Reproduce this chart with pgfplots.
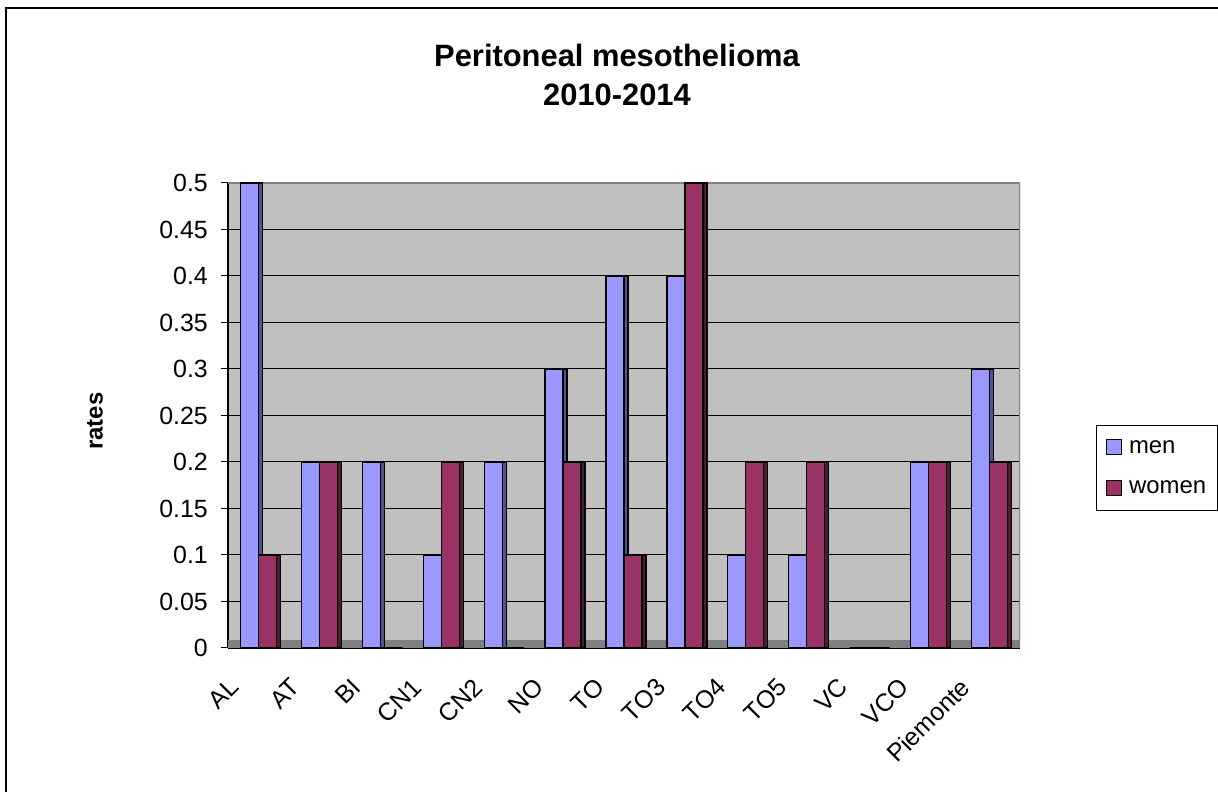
\documentclass[border=0pt]{standalone}
\usepackage{fontspec}
\setmainfont{Liberation Sans}
\usepackage{pgfplots}
\pgfplotsset{compat=1.18}
\definecolor{menc}{HTML}{9999FF}
\definecolor{womenc}{HTML}{993366}
\definecolor{menside}{RGB}{84,84,140}
\definecolor{womenside}{RGB}{77,26,51}
\definecolor{wall}{HTML}{C0C0C0}
\definecolor{floorc}{HTML}{808080}
\begin{document}
\begin{tikzpicture}
\useasboundingbox (0,0) rectangle (1218bp,792bp);
\draw[line width=1.6bp, black] (6bp,0bp) -- (6bp,784bp) -- (1218bp,784bp);
\node[font=\fontsize{31}{36}\selectfont\bfseries, anchor=base] at (617bp,725bp) {Peritoneal mesothelioma};
\node[font=\fontsize{31}{36}\selectfont\bfseries, anchor=base] at (617bp,686bp) {2010-2014};
\begin{axis}[
  at={(228bp,144bp)}, anchor=south west,
  scale only axis, width=792bp, height=465bp,
  xmin=-0.5, xmax=12.5, ymin=0, ymax=0.5,
  axis background/.style={fill=wall},
  axis x line=bottom, axis y line=left,
  axis line style={-, black, line width=1.2bp},
  ytick={0,0.05,0.1,0.15,0.2,0.25,0.3,0.35,0.4,0.45,0.5},
  yticklabels={0,0.05,0.1,0.15,0.2,0.25,0.3,0.35,0.4,0.45,0.5},
  ymajorgrids, grid style={black, line width=1bp},
  xtick={0,...,12},
  xticklabels={AL,AT,BI,CN1,CN2,NO,TO,TO3,TO4,TO5,VC,VCO,Piemonte},
  minor xtick={-0.5,0.5,...,12.5},
  tick align=outside,
  major tick length=7bp,
  xtick style={draw=none},
  minor tick length=9bp,
  minor tick style={black, line width=1bp},
  ytick style={black, line width=1bp},
  tick label style={font=\fontsize{25}{29}\selectfont},
  xticklabel style={xshift=-24bp, yshift=-28bp, rotate=45, anchor=east, inner sep=0pt},
  yticklabel style={inner sep=0pt, xshift=-13bp},
  ylabel={rates},
  ylabel style={font=\fontsize{24}{28}\selectfont\bfseries, at={(axis description cs:-0.168,0.488)}, anchor=center},
  ybar, bar width=18bp,
  legend style={at={(axis description cs:1.096,0.4796)}, anchor=north west,
    font=\fontsize{24}{28}\selectfont, draw=black, line width=1bp,
    row sep=22bp, inner xsep=9bp, inner ysep=13bp, legend cell align=left},
  legend image code/.code={\draw[#1, draw=black, line width=1bp] (0bp,-7bp) rectangle (15bp,8bp); \path[draw=none, fill=none] (0bp,0bp) -- (21bp,0bp);},
]
\fill[floorc] (axis cs:-0.5,0) rectangle (axis cs:12.5,0.009);
\draw[floorc, line width=2bp] (rel axis cs:0,1) -- (rel axis cs:1,1) -- (rel axis cs:1,0);
% men side faces
\addplot[forget plot, fill=menside, draw=black, line width=1.2bp, bar shift=2bp, bar width=4bp] coordinates {
(0,0.5) (1,0.2) (2,0.2) (3,0.1) (4,0.2) (5,0.3) (6,0.4) (7,0.4) (8,0.1) (9,0.1) (10,0) (11,0.2) (12,0.3)};
% men
\addplot[fill=menc, draw=black, line width=1.2bp, bar shift=-9bp] coordinates {
(0,0.5) (1,0.2) (2,0.2) (3,0.1) (4,0.2) (5,0.3) (6,0.4) (7,0.4) (8,0.1) (9,0.1) (10,0) (11,0.2) (12,0.3)};
\addlegendentry{men}
% women side faces
\addplot[forget plot, fill=womenside, draw=black, line width=1.2bp, bar shift=20bp, bar width=4bp] coordinates {
(0,0.1) (1,0.2) (2,0) (3,0.2) (4,0) (5,0.2) (6,0.1) (7,0.5) (8,0.2) (9,0.2) (10,0) (11,0.2) (12,0.2)};
% women
\addplot[fill=womenc, draw=black, line width=1.2bp, bar shift=9bp] coordinates {
(0,0.1) (1,0.2) (2,0) (3,0.2) (4,0) (5,0.2) (6,0.1) (7,0.5) (8,0.2) (9,0.2) (10,0) (11,0.2) (12,0.2)};
\addlegendentry{women}
\end{axis}
\end{tikzpicture}
\end{document}
